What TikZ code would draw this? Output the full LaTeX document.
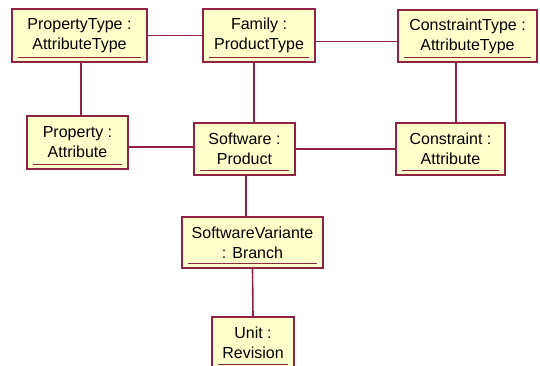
\documentclass[tikz,border=0pt]{standalone}
\usepackage{fontspec}
\setmainfont{Liberation Sans}
\usetikzlibrary{positioning, calc}
\definecolor{cmaroon}{HTML}{8E2344}
\definecolor{ccream}{HTML}{FFFFCC}
\tikzset{
  every picture/.style={font=\fontsize{16}{20}\selectfont, line width=1.5pt},
  obj/.style={draw=cmaroon, fill=ccream, align=center, inner sep=2pt},
  link/.style={draw=cmaroon, line width=1.6pt},
  uline/.style={draw=cmaroon, line width=1.2pt},
}
\begin{document}
\begin{tikzpicture}[x=1pt, y=-1pt, ob/.style 2 args={obj, minimum width=#1, minimum height=#2}]
  \useasboundingbox[fill=white] (0,0) rectangle (540,366);
  \node[ob={135pt}{53pt}] (pt) at (79.5,35.5) {PropertyType :\\AttributeType};
  \node[ob={112pt}{53pt}] (fam) at (259,35.5) {Family :\\ProductType};
  \node[ob={139pt}{52pt}] (ct) at (467.5,36) {ConstraintType :\\AttributeType};
  \node[ob={101pt}{53pt}] (prop) at (77.5,142.5) {Property :\\Attribute};
  \node[ob={101pt}{52pt}] (sw) at (244.5,149) {Software :\\Product};
  \node[ob={109pt}{52pt}] (con) at (450.5,149) {Constraint :\\Attribute};
  \node[ob={141pt}{51pt}] (swv) at (252.5,242.5) {SoftwareVariante\\: Branch};
  \node[ob={82pt}{52pt}] (unit) at (253,343) {Unit :\\Revision};
  \foreach \n in {pt, fam, ct, prop, sw, con, swv, unit} {
    \draw[uline] ([xshift=7pt, yshift=5pt]\n.south west) -- ([xshift=-7pt, yshift=5pt]\n.south east);
  }
  \draw[link] (pt.east) -- (fam.west);
  \draw[link] ([yshift=-6pt]fam.east) -- ([yshift=-6pt]fam.east -| ct.west);
  \draw[link] ([xshift=1.5pt]pt.south) -- ([xshift=1.5pt]pt.south |- prop.north);
  \draw[link] ([xshift=-5pt]fam.south) -- ([xshift=-5pt]fam.south |- sw.north);
  \draw[link] ([xshift=-11.5pt]ct.south) -- ([xshift=-11.5pt]ct.south |- con.north);
  \draw[link] ([yshift=-4.5pt]prop.east) -- ([yshift=-4.5pt]prop.east -| sw.west);
  \draw[link] (sw.east) -- (con.west);
  \draw[link] ([xshift=1.5pt]sw.south) -- ([xshift=1.5pt]sw.south |- swv.north);
  \draw[link] (swv.south) -- (unit.north);
\end{tikzpicture}
\end{document}
